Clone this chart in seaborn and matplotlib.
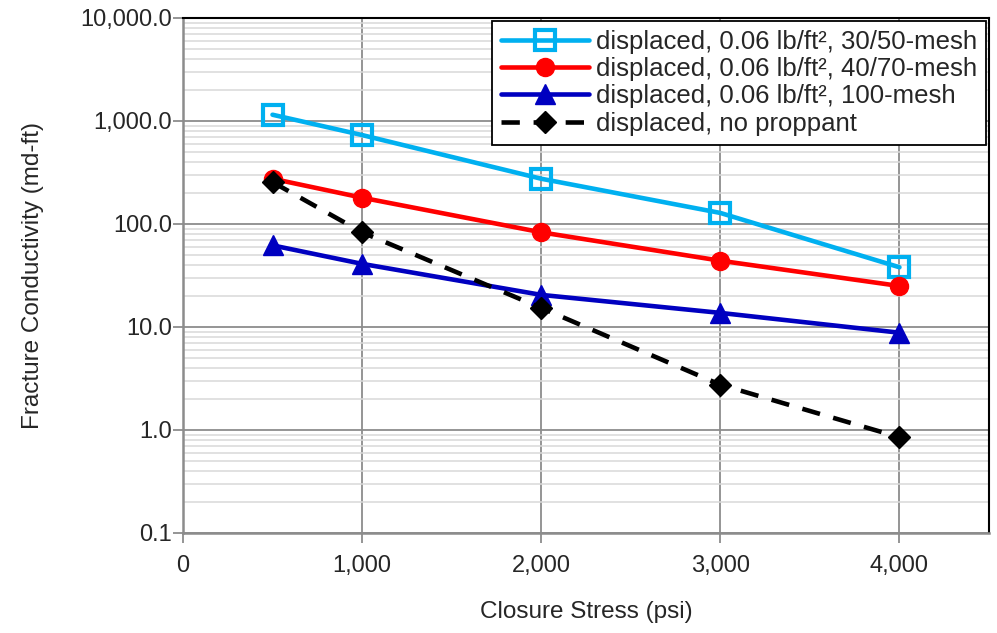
import numpy as np
import pandas as pd
import matplotlib
matplotlib.use("Agg")
import matplotlib.pyplot as plt
import seaborn as sns
from matplotlib.ticker import FixedLocator, FuncFormatter, LogLocator, NullFormatter

# Closure stress (psi) and fracture conductivity (md-ft) per test condition
stress = [500, 1000, 2000, 3000, 4000]
cond_3050 = [1150, 730, 275, 128, 38]
cond_4070 = [275, 180, 83, 44, 25]
cond_100 = [62, 41, 20.5, 13.7, 8.8]
cond_none = [255, 83, 15.3, 2.75, 0.85]

labels = [
    "displaced, 0.06 lb/ft², 30/50-mesh",
    "displaced, 0.06 lb/ft², 40/70-mesh",
    "displaced, 0.06 lb/ft², 100-mesh",
    "displaced, no proppant",
]
x_ticks = [0, 1000, 2000, 3000, 4000]
y_ticks = [0.1, 1, 10, 100, 1000, 10000]

sns.set_theme(style="white")
plt.rcParams["font.family"] = ["Liberation Sans", "DejaVu Sans"]

df = pd.concat([
    pd.DataFrame({"stress": stress, "cond": vals, "series": lab})
    for vals, lab in zip([cond_3050, cond_4070, cond_100, cond_none], labels)
])

fig = plt.figure(figsize=(9.97, 6.33), dpi=100)
ax = fig.add_axes([0.1835, 0.158, 0.8085, 0.8136])

styles = [
    dict(color="#00B0F0", marker="s", markersize=14.5, markerfacecolor="none",
         markeredgewidth=3, linestyle="-", linewidth=3.3),
    dict(color="#FF0000", marker="o", markersize=13, markeredgewidth=1,
         linestyle="-", linewidth=3.3),
    dict(color="#0000C0", marker="^", markersize=14, markeredgewidth=1,
         linestyle="-", linewidth=3.3),
    dict(color="black", marker="D", markersize=11, markeredgewidth=1,
         linestyle=(0, (4, 3)), linewidth=3.3),
]

for lab, st in zip(labels, styles):
    sub = df[df["series"] == lab]
    st = dict(st)
    col = st.pop("color")
    sns.lineplot(data=sub, x="stress", y="cond", ax=ax, color=col, label=lab,
                 markeredgecolor=col, **st)

ax.set_yscale("log")
ax.set_xlim(0, 4500)
ax.set_ylim(0.1, 10000)
ax.xaxis.set_major_locator(FixedLocator(x_ticks))
ax.yaxis.set_major_locator(FixedLocator(y_ticks))
ax.yaxis.set_minor_locator(LogLocator(base=10, subs=np.arange(2, 10)))
ax.yaxis.set_minor_formatter(NullFormatter())
ax.xaxis.set_major_formatter(FuncFormatter(lambda v, p: f"{v:,.0f}"))
ax.yaxis.set_major_formatter(FuncFormatter(lambda v, p: f"{v:,.1f}"))

ax.grid(True, which="major", axis="both", color="#8C8C8C", linewidth=1.3)
ax.grid(True, which="minor", axis="y", color="#D9D9D9", linewidth=1.1)
ax.set_axisbelow(True)

for side in ["left", "bottom"]:
    ax.spines[side].set_color("#8C8C8C")
    ax.spines[side].set_linewidth(1.8)
for side in ["top", "right"]:
    ax.spines[side].set_color("black")
    ax.spines[side].set_linewidth(1.5)

ax.tick_params(axis="both", which="major", direction="out", length=7, width=1.3,
               color="#8C8C8C", labelsize=17, pad=1, bottom=True, left=True)
ax.tick_params(axis="x", which="major", pad=9)
ax.tick_params(axis="y", which="minor", left=False)

ax.set_xlabel("Closure Stress (psi)", fontsize=17.5, labelpad=17)
ax.set_ylabel("Fracture Conductivity (md-ft)", fontsize=17.5, labelpad=26)

leg = ax.legend(loc="upper right", fontsize=18.5, frameon=True, fancybox=False,
                edgecolor="black", framealpha=1, borderaxespad=0.1,
                handlelength=3.4, labelspacing=0.13, borderpad=0.35,
                handletextpad=0.3)
leg.get_frame().set_linewidth(1.3)

fig.savefig("out.png", dpi=100)
